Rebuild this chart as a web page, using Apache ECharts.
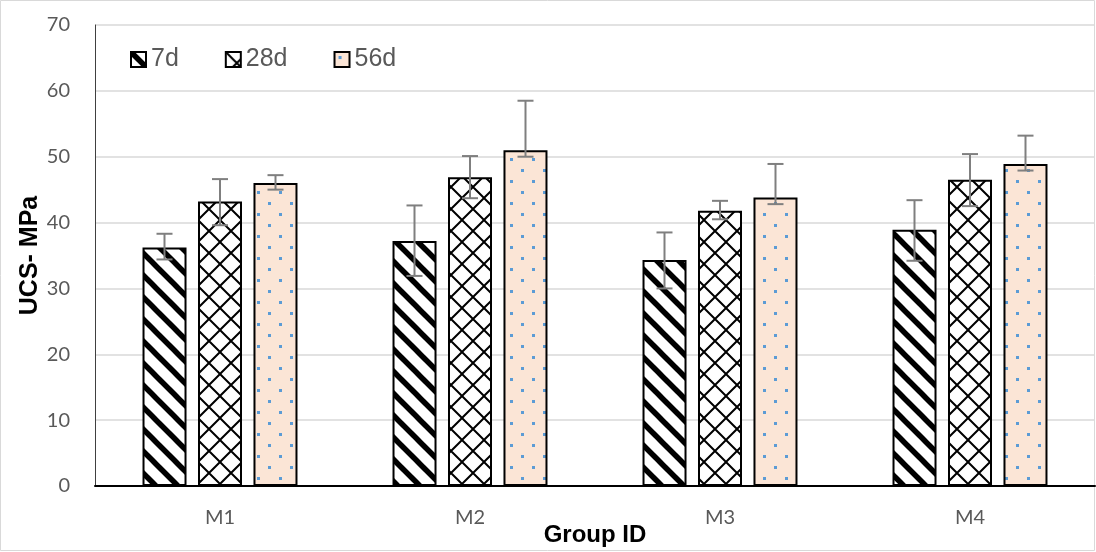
<!DOCTYPE html>
<html>
<head>
<meta charset="utf-8">
<script src="https://cdn.jsdelivr.net/npm/echarts@6/dist/echarts.min.js"></script>
<style>
html, body { margin: 0; padding: 0; background: #fff; }
#chart { width: 1096px; height: 552px; }
</style>
</head>
<body>
<div id="chart"></div>
<script>
const groups = ["M1", "M2", "M3", "M4"];
const ages = ["7d", "28d", "56d"];
const ucs7 = [36.2, 37.2, 34.3, 38.9];
const ucs28 = [43.2, 46.9, 41.8, 46.5];
const ucs56 = [46.0, 51.0, 43.8, 48.9];
// error bar ends [low, high]
const err7 = [[34.4, 38.3], [31.9, 42.6], [30.0, 38.5], [34.2, 43.4]];
const err28 = [[39.6, 46.6], [43.7, 50.1], [40.5, 43.3], [42.5, 50.4]];
const err56 = [[45.0, 47.2], [50.0, 58.5], [42.8, 48.9], [47.9, 53.2]];

const BAR_W = 44;
const BAR_GAP = 11.5;

function makeTile(draw) {
  const c = document.createElement("canvas");
  c.width = 22;
  c.height = 22;
  draw(c.getContext("2d"), 22);
  return { image: c, repeat: "repeat" };
}

// wide downward diagonal
const stripes = makeTile((ctx, s) => {
  ctx.fillStyle = "#fff";
  ctx.fillRect(0, 0, s, s);
  ctx.strokeStyle = "#000";
  ctx.lineWidth = 5.5;
  for (let k = -1; k <= 1; k++) {
    ctx.beginPath();
    ctx.moveTo(k * s - 2, -2);
    ctx.lineTo(k * s + s + 2, s + 2);
    ctx.stroke();
  }
});

// outlined diamond
const diamonds = makeTile((ctx, s) => {
  ctx.fillStyle = "#fff";
  ctx.fillRect(0, 0, s, s);
  ctx.strokeStyle = "#000";
  ctx.lineWidth = 2;
  ctx.beginPath();
  ctx.moveTo(0, 0);
  ctx.lineTo(s, s);
  ctx.moveTo(s, 0);
  ctx.lineTo(0, s);
  ctx.stroke();
});

// dotted peach
const dots = makeTile((ctx, s) => {
  ctx.fillStyle = "#fbe5d6";
  ctx.fillRect(0, 0, s, s);
  ctx.fillStyle = "#5b9bd5";
  ctx.fillRect(4, 4, 3, 3);
  ctx.fillRect(15, 15, 3, 3);
});

const fills = [stripes, diamonds, dots];
const values = [ucs7, ucs28, ucs56];
const errs = [err7, err28, err56];

const barSeries = ages.map((name, i) => ({
  name: name,
  type: "bar",
  data: values[i],
  barWidth: BAR_W,
  barGap: (BAR_GAP / BAR_W * 100).toFixed(1) + "%",
  itemStyle: { color: fills[i], borderColor: "#000", borderWidth: 2 },
  z: 2
}));

const errSeries = ages.map((name, i) => ({
  name: "err " + name,
  type: "custom",
  z: 5,
  data: errs[i].map((e, j) => [j, e[0], e[1]]),
  encode: { x: 0, y: [1, 2] },
  renderItem: function (params, api) {
    const shift = (i - 1) * (BAR_W + BAR_GAP);
    const lo = api.coord([api.value(0), api.value(1)]);
    const hi = api.coord([api.value(0), api.value(2)]);
    const x = lo[0] + shift;
    const cap = 8;
    const style = { stroke: "#7f7f7f", lineWidth: 2 };
    return {
      type: "group",
      children: [
        { type: "line", shape: { x1: x, y1: lo[1], x2: x, y2: hi[1] }, style: style },
        { type: "line", shape: { x1: x - cap, y1: lo[1], x2: x + cap, y2: lo[1] }, style: style },
        { type: "line", shape: { x1: x - cap, y1: hi[1], x2: x + cap, y2: hi[1] }, style: style }
      ]
    };
  }
}));

const chart = echarts.init(document.getElementById("chart"));
chart.setOption({
  animation: false,
  backgroundColor: "#fff",
  graphic: [{
    type: "rect",
    shape: { x: 0.5, y: 0.5, width: 1094, height: 550 },
    style: { fill: "none", stroke: "#d9d9d9", lineWidth: 1 },
    silent: true
  }],
  grid: { left: 95, right: 1, top: 25, bottom: 66, containLabel: false, outerBoundsMode: "none" },
  legend: {
    data: ages,
    left: 125,
    top: 42,
    icon: "rect",
    itemWidth: 15,
    itemHeight: 15,
    itemGap: 46,
    textStyle: { color: "#595959", fontSize: 25, fontFamily: "Liberation Sans" }
  },
  xAxis: {
    type: "category",
    data: groups,
    name: "Group ID",
    nameLocation: "middle",
    nameGap: 37,
    nameMoveOverlap: false,
    nameTextStyle: { color: "#000", fontSize: 24, fontWeight: "bold", fontFamily: "Liberation Sans" },
    axisLine: { lineStyle: { color: "#000", width: 2 } },
    axisTick: { show: false },
    axisLabel: { color: "#595959", fontSize: 20, fontFamily: "Lato", margin: 22 }
  },
  yAxis: {
    type: "value",
    min: 0,
    max: 70,
    interval: 10,
    name: "UCS- MPa",
    nameLocation: "middle",
    nameGap: 52,
    nameMoveOverlap: false,
    nameTextStyle: { color: "#000", fontSize: 25, fontWeight: "bold", fontFamily: "Liberation Sans" },
    axisLine: { show: true, lineStyle: { color: "#404040", width: 1 } },
    axisTick: { show: false },
    axisLabel: { color: "#595959", fontSize: 20, fontFamily: "Lato", margin: 25 },
    splitLine: { lineStyle: { color: "#d9d9d9", width: 1.5 } }
  },
  series: barSeries.concat(errSeries)
});
</script>
</body>
</html>
